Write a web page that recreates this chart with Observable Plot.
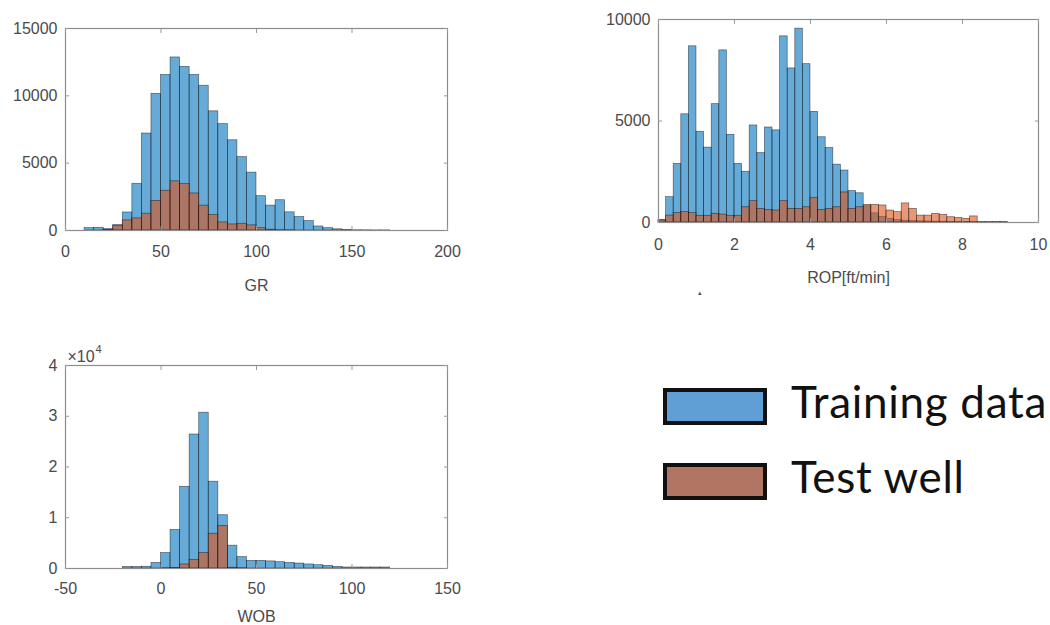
<!DOCTYPE html>
<html>
<head>
<meta charset="utf-8">
<script src="https://cdn.jsdelivr.net/npm/d3@7"></script>
<script src="https://cdn.jsdelivr.net/npm/@observablehq/plot@0.6"></script>
<style>
  body { margin: 0; background: #fff; }
  #root { position: relative; width: 1050px; height: 625px; background: #fff; overflow: hidden; }
  .panel { position: absolute; }
  .legend-box { position: absolute; width: 96px; height: 29px; border: 4px solid #111; }
  .legend-text { position: absolute; font-family: Lato, "Open Sans", sans-serif; font-size: 44px; letter-spacing: 0.7px; color: #111; line-height: 1; white-space: nowrap; }
</style>
</head>
<body>
<div id="root"></div>
<script>
// ---------- data ----------
// GR histogram: bins of width 5 starting at 10
const grBinStart = 10;
const grBinWidth = 5;
const grTrain = [180, 200, 100, 400, 1340, 3470, 7200, 10150, 11550, 12850, 12150, 11550, 10750, 8850, 7900, 6700, 5450, 4300, 2550, 1850, 2250, 1350, 1000, 700, 300, 180, 90, 40, 20, 15, 10, 10];
const grTest  = [0, 0, 50, 350, 750, 900, 1250, 2200, 2950, 3650, 3450, 2750, 1850, 1150, 600, 450, 500, 380, 170, 60, 20, 10, 0, 0, 0, 0, 0, 0, 0, 0, 0, 0];

// ROP histogram: bins of width 0.2 starting at 0
const ropBinStart = 0;
const ropBinWidth = 0.2;
const ropTrain = [130, 1250, 2890, 5330, 8680, 4470, 3690, 5830, 8480, 4320, 2890, 2500, 4780, 3420, 4680, 4540, 9170, 7590, 9550, 7800, 5450, 4200, 3670, 2850, 2560, 1550, 1440, 800, 450, 280, 180, 120, 90, 70, 60, 50, 40, 35, 30, 25, 25, 20, 20, 20, 20, 20];
const ropTest  = [100, 340, 460, 510, 460, 330, 330, 430, 390, 330, 330, 750, 1050, 670, 620, 590, 1050, 670, 670, 750, 1200, 620, 670, 750, 1480, 670, 750, 870, 870, 840, 590, 510, 940, 670, 340, 340, 430, 380, 260, 230, 180, 300, 0, 0, 0, 0];

// WOB histogram: bins of width 5 starting at -20
const wobBinStart = -20;
const wobBinWidth = 5;
const wobTrain = [300, 300, 350, 1100, 3050, 7600, 16100, 26400, 30700, 17100, 10500, 4500, 2250, 1500, 1500, 1400, 1250, 1100, 980, 800, 650, 520, 330, 200, 200, 200, 200, 200];
const wobTest  = [0, 0, 0, 0, 50, 100, 790, 1710, 3030, 6850, 8400, 150, 50, 0, 0, 0, 0, 0, 0, 0, 0, 0, 0, 0, 0, 0, 0, 0];

// tick labels
const grXTicks = [0, 50, 100, 150, 200];
const grYTicks = [0, 5000, 10000, 15000];
const ropXTicks = [0, 2, 4, 6, 8, 10];
const ropYTicks = [0, 5000, 10000];
const wobXTicks = [-50, 0, 50, 100, 150];
const wobYTicks = [0, 10000, 20000, 30000, 40000];

const seriesNames = ["Training data", "Test well"];
// ---------- styling ----------
const blue = "rgb(0,114,189)";
const orange = "rgb(217,83,25)";
const font = "'Liberation Sans', Arial, sans-serif";
const textColor = "#4a4a4a";

function rows(start, width, counts) {
  return counts.map((c, i) => ({x1: start + i * width, x2: start + (i + 1) * width, y: c}));
}

function hist({train, test, start, width, xDomain, yDomain, xTicks, yTicks, yFormat, label, w, h, m, labelDy, tickPad, extra = []}) {
  const barStyle = {x1: "x1", x2: "x2", y1: 0, y2: "y", fillOpacity: 0.6, stroke: "#000", strokeOpacity: 0.55, strokeWidth: 0.7};
  return Plot.plot({
    width: w, height: h,
    marginLeft: m[0], marginRight: m[1], marginTop: m[2], marginBottom: m[3],
    style: {fontFamily: font, fontSize: "16px", color: textColor, background: "transparent", overflow: "visible"},
    x: {domain: xDomain, label: null},
    y: {domain: yDomain, label: null},
    marks: [
      Plot.rect(rows(start, width, train), {...barStyle, fill: blue}),
      Plot.rect(rows(start, width, test), {...barStyle, fill: orange}),
      Plot.frame({stroke: "#8c8c8c", strokeWidth: 1.2}),
      Plot.axisX(xTicks, {anchor: "bottom", tickSize: 0, tickPadding: tickPad, tickFormat: d => String(d), label: null}),
      Plot.axisX(xTicks, {anchor: "bottom", tickSize: -4, tickFormat: () => "", stroke: "#999", label: null}),
      Plot.axisX(xTicks, {anchor: "top", tickSize: -4, tickFormat: () => "", stroke: "#999", label: null}),
      Plot.axisY(yTicks, {anchor: "left", tickSize: 0, tickPadding: 8, tickFormat: yFormat, label: null}),
      Plot.axisY(yTicks, {anchor: "left", tickSize: -4, tickFormat: () => "", stroke: "#999", label: null}),
      Plot.axisY(yTicks, {anchor: "right", tickSize: -4, tickFormat: () => "", stroke: "#999", label: null}),
      Plot.text([label], {text: d => d, frameAnchor: "bottom", dy: labelDy, lineAnchor: "bottom", fontSize: 16, fill: textColor}),
      ...extra
    ]
  });
}

const root = document.getElementById("root");
function place(node, left, top) {
  const d = document.createElement("div");
  d.className = "panel";
  d.style.left = left + "px";
  d.style.top = top + "px";
  d.appendChild(node);
  root.appendChild(d);
}

place(hist({
  train: grTrain, test: grTest, start: grBinStart, width: grBinWidth,
  xDomain: [0, 200], yDomain: [0, 15000], xTicks: grXTicks, yTicks: grYTicks,
  yFormat: d => String(d), label: "GR",
  w: 470, h: 300, m: [65, 23, 28, 70], labelDy: 60, tickPad: 15
}), 0, 0);

place(hist({
  train: ropTrain, test: ropTest, start: ropBinStart, width: ropBinWidth,
  xDomain: [0, 10], yDomain: [0, 10000], xTicks: ropXTicks, yTicks: ropYTicks,
  yFormat: d => String(d), label: "ROP[ft/min]",
  w: 460, h: 300, m: [68, 12, 19, 78], labelDy: 60, tickPad: 16,
  extra: [Plot.text(["▴"], {text: d => d, frameAnchor: "bottom-left", dx: 39, dy: 72, fontSize: 7, fill: "#555"})]
}), 590, 0);

place(hist({
  train: wobTrain, test: wobTest, start: wobBinStart, width: wobBinWidth,
  xDomain: [-50, 150], yDomain: [0, 40000], xTicks: wobXTicks, yTicks: wobYTicks,
  yFormat: d => String(d / 10000), label: "WOB",
  w: 470, h: 305, m: [65, 23, 45, 57], labelDy: 53, tickPad: 14,
  extra: [
    Plot.text(["×10"], {text: d => d, frameAnchor: "top-left", dx: 2, dy: -4, lineAnchor: "bottom", textAnchor: "start", fontSize: 16, fill: textColor}),
    Plot.text(["4"], {text: d => d, frameAnchor: "top-left", dx: 30, dy: -13, lineAnchor: "bottom", textAnchor: "start", fontSize: 11, fill: textColor})
  ]
}), 0, 320);

// legend
const legendFills = ["#5f9fd6", "#b07563"];
const legendTops = [388, 463];
seriesNames.forEach((name, i) => {
  const box = document.createElement("div");
  box.className = "legend-box";
  box.style.left = "663px";
  box.style.top = legendTops[i] + "px";
  box.style.background = legendFills[i];
  root.appendChild(box);
  const t = document.createElement("div");
  t.className = "legend-text";
  t.style.left = "791px";
  t.style.top = (legendTops[i] - 9) + "px";
  t.textContent = name;
  root.appendChild(t);
});
</script>
</body>
</html>
